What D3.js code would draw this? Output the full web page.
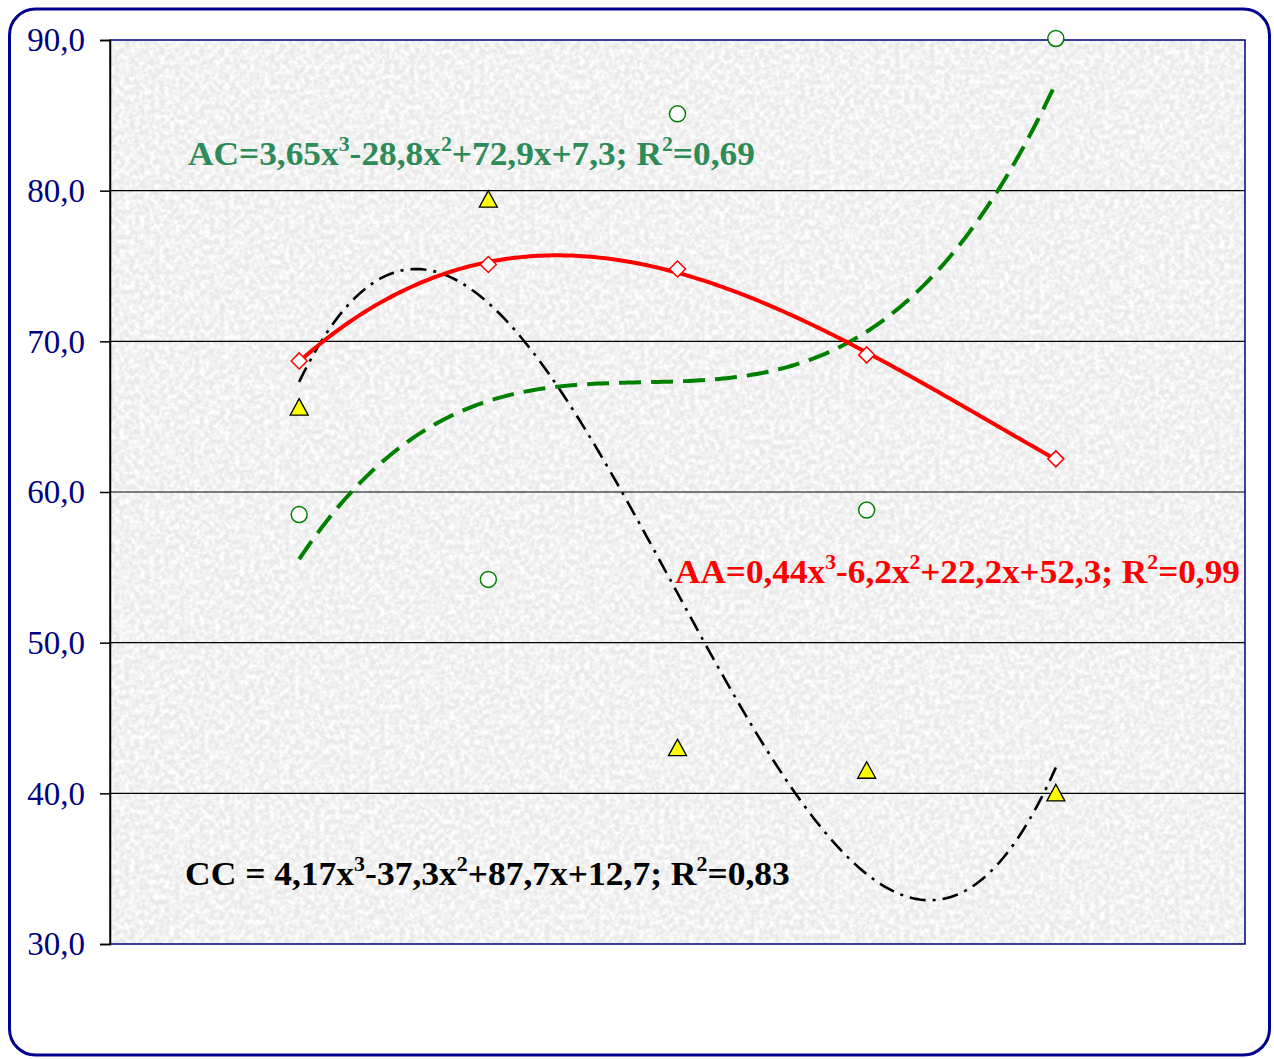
<!DOCTYPE html>
<html><head><meta charset="utf-8">
<script src="https://cdn.jsdelivr.net/npm/d3@7"></script>
<style>body{margin:0;background:#fff}svg{display:block}</style>
</head><body>
<script>
const categories = [1, 2, 3, 4, 5];
const seriesAA = [68.7, 75.1, 74.8, 69.1, 62.2];
const seriesAC = [58.5, 54.2, 85.1, 58.8, 90.1];
const seriesCC = [65.6, 79.4, 43.0, 41.5, 40.0];
const yTicks = [30, 40, 50, 60, 70, 80, 90];
const labelAA = ["AA=0,44x", "3", "-6,2x", "2", "+22,2x+52,3; R", "2", "=0,99"];
const labelAC = ["AC=3,65x", "3", "-28,8x", "2", "+72,9x+7,3; R", "2", "=0,69"];
const labelCC = ["CC = 4,17x", "3", "-37,3x", "2", "+87,7x+12,7; R", "2", "=0,83"];

const W = 1274, H = 1059;
const svg = d3.select("body").append("svg").attr("width", W).attr("height", H);
const defs = svg.append("defs");
const f = defs.append("filter").attr("id","granite").attr("x",0).attr("y",0).attr("width","100%").attr("height","100%");
f.append("feTurbulence").attr("type","fractalNoise").attr("baseFrequency","0.2").attr("numOctaves",3).attr("seed",5).attr("result","n");
f.append("feColorMatrix").attr("in","n").attr("type","matrix")
 .attr("values","0 0 0 0 1  0 0 0 0 1  0 0 0 0 1  0 0 0 -2.4 1.6").attr("result","c");
f.append("feComposite").attr("in","c").attr("in2","SourceGraphic").attr("operator","over");

// outer frame
svg.append("rect").attr("x",9.5).attr("y",9).attr("width",1260).attr("height",1046).attr("rx",26).attr("ry",26)
  .attr("fill","#fff").attr("stroke","#000090").attr("stroke-width",3);

const L = 110, R = 1245, T = 40, B = 944;
const x = d3.scaleLinear().domain([0, 6]).range([L, R]);
const y = d3.scaleLinear().domain([30, 90]).range([B, T]);

// plot background
svg.append("rect").attr("x",L).attr("y",T).attr("width",R-L).attr("height",B-T).attr("fill","#d2d2d2");
svg.append("rect").attr("x",L).attr("y",T).attr("width",R-L).attr("height",B-T).attr("fill","#e9e9e9").attr("filter","url(#granite)");

// gridlines
svg.append("g").selectAll("line").data(yTicks.filter(d=>d>30&&d<90)).join("line")
  .attr("x1",L).attr("x2",R).attr("y1",d=>y(d)).attr("y2",d=>y(d)).attr("stroke","#000").attr("stroke-width",1.2);
// plot border
svg.append("rect").attr("x",L).attr("y",T).attr("width",R-L).attr("height",B-T).attr("fill","none").attr("stroke","#000080").attr("stroke-width",1.5);

// y axis
const ax = svg.append("g").attr("transform",`translate(${L},0)`)
  .call(d3.axisLeft(y).tickValues(yTicks).tickSize(10).tickPadding(15).tickFormat(d=>d3.format(".1f")(d).replace(".",",")));
ax.select(".domain").attr("stroke","#000").attr("stroke-width",1.5);
ax.selectAll(".tick line").attr("stroke","#000").attr("stroke-width",1.5);
ax.selectAll(".tick text").attr("fill","#000080").attr("font-family","'Liberation Serif', 'Times New Roman', serif").attr("font-size",33).attr("dy","0.33em");

// cubic least-squares trend
function cubicFit(xs, ys){
  const n=4, A=[...Array(n)].map(()=>Array(n+1).fill(0));
  xs.forEach((xv,i)=>{ for(let r=0;r<n;r++){ for(let c=0;c<n;c++) A[r][c]+=Math.pow(xv,r+c); A[r][n]+=ys[i]*Math.pow(xv,r);} });
  for(let i=0;i<n;i++){ let p=i; for(let k=i+1;k<n;k++) if(Math.abs(A[k][i])>Math.abs(A[p][i])) p=k; [A[i],A[p]]=[A[p],A[i]];
    for(let k=0;k<n;k++){ if(k===i) continue; const fct=A[k][i]/A[i][i]; for(let c=i;c<=n;c++) A[k][c]-=fct*A[i][c]; } }
  const co=A.map((r,i)=>r[n]/r[i]);
  return xv=>co[0]+co[1]*xv+co[2]*xv*xv+co[3]*xv*xv*xv;
}
const line = d3.line().x(d=>x(d[0])).y(d=>y(d[1])).curve(d3.curveLinear);
function trend(ys, style){
  const fn = cubicFit(categories, ys);
  const pts = d3.range(categories[0], categories[categories.length-1]+1e-9, 0.02).map(v=>[v, fn(v)]);
  svg.append("path").attr("d", line(pts)).attr("fill","none").attr("stroke",style.color)
    .attr("stroke-width",style.w).attr("stroke-dasharray",style.dash||null).attr("stroke-linecap","butt");
}
trend(seriesCC, {color:"#000", w:2.6, dash:"16,7,3,7"});
trend(seriesAC, {color:"#008000", w:4, dash:"22,10"});
trend(seriesAA, {color:"#ff0000", w:4});

// markers
svg.append("g").selectAll("path").data(categories).join("path")
  .attr("transform",(d,i)=>`translate(${x(d)},${y(seriesAA[i])})`)
  .attr("d","M0,-8L8,0L0,8L-8,0Z").attr("fill","#fff").attr("stroke","#ff0000").attr("stroke-width",1.5);
svg.append("g").selectAll("circle").data(categories).join("circle")
  .attr("cx",d=>x(d)).attr("cy",(d,i)=>y(seriesAC[i])).attr("r",8).attr("fill","#fff").attr("stroke","#008000").attr("stroke-width",1.5);
svg.append("g").selectAll("path").data(categories).join("path")
  .attr("transform",(d,i)=>`translate(${x(d)},${y(seriesCC[i])})`)
  .attr("d","M0,-9L9,7.5L-9,7.5Z").attr("fill","#ffff00").attr("stroke","#000").attr("stroke-width",1.3);

// equation labels
function eq(parts, px, py, color, targetW){
  const g = svg.append("g");
  const t = g.append("text").attr("x",0).attr("y",0).attr("fill",color)
    .attr("font-family","'Liberation Serif', 'Times New Roman', serif").attr("font-weight","bold").attr("font-size",34);
  parts.forEach((p,i)=>{
    const sup = i%2===1;
    t.append("tspan").text(p).attr("font-size", sup?21:34).attr("dy", sup?-14:(i>0?14:0));
  });
  const w = t.node().getComputedTextLength();
  g.attr("transform",`translate(${px},${py}) scale(${targetW/w},1)`);
}
eq(labelAC, 188, 165, "#2e8b57", 567);
eq(labelAA, 675, 583, "#ff0000", 565);
eq(labelCC, 185, 885, "#000", 605);
</script>
</body></html>
